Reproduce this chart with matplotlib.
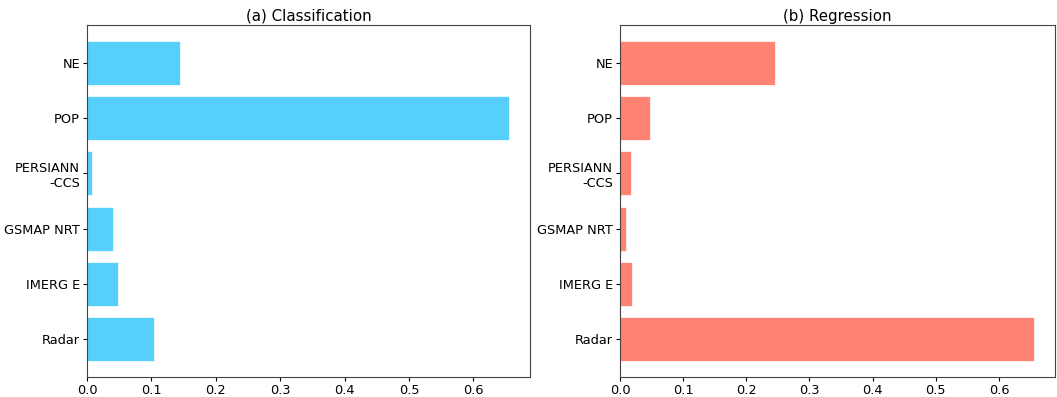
import matplotlib
matplotlib.use('Agg')
import matplotlib.pyplot as plt

categories = ['Radar', 'IMERG E', 'GSMAP NRT', 'PERSIANN\n-CCS', 'POP', 'NE']
clf_importance = [0.104, 0.048, 0.040, 0.008, 0.655, 0.144]
reg_importance = [0.656, 0.019, 0.010, 0.017, 0.047, 0.245]

fig = plt.figure(figsize=(10.57, 3.97), dpi=100)
ax1 = fig.add_axes([87 / 1057, 20 / 397, 443 / 1057, 352 / 397])
ax2 = fig.add_axes([620 / 1057, 20 / 397, 435 / 1057, 352 / 397])

ax1.barh(categories, clf_importance, color='#56CFFB', edgecolor='white', linewidth=0.5)
ax1.set_title('(a) Classification', fontsize=10.8, pad=3)

ax2.barh(categories, reg_importance, color='#FF8272', edgecolor='white', linewidth=0.5)
ax2.set_title('(b) Regression', fontsize=10.8, pad=3)

for ax in (ax1, ax2):
    ax.tick_params(labelsize=9.3, length=3, pad=2)
    for s in ax.spines.values():
        s.set_color('#444444')

fig.savefig('out.png', dpi=100)
